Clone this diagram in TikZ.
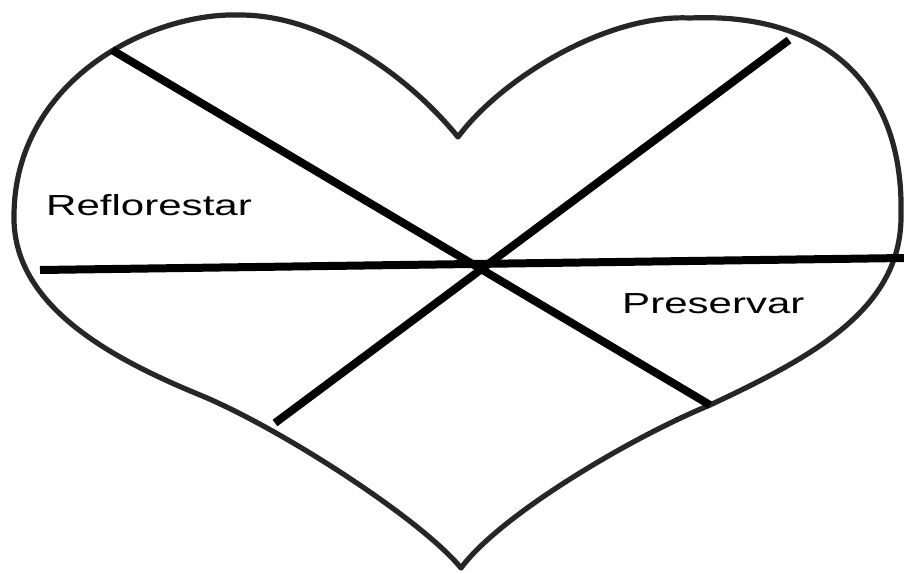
\documentclass[tikz,border=0pt]{standalone}
\usepackage{fontspec}
\setmainfont{Liberation Sans}
\begin{document}
\begin{tikzpicture}[x=1pt,y=1pt,
  heartline/.style={draw=black!85,line width=5.2pt,line join=round},
  cutline/.style={draw=black,line width=8pt},
  lbl/.style={inner sep=0pt,anchor=base west,font=\fontsize{29}{35}\selectfont}]
\useasboundingbox[fill=white] (0,0) rectangle (904,-573);
% heart outline
\coordinate (dip) at (458,-137);
\coordinate (tip) at (461,-568);
\draw[heartline] (dip)
  .. controls (405,-72) and (320,-15) .. (240,-15)
  .. controls (150,-12) and (15,-80) .. (14,-215)
  .. controls (12,-305) and (110,-358) .. (200,-395)
  .. controls (280,-428) and (421,-519) .. (tip)
  .. controls (500,-515) and (630,-438) .. (710,-405)
  .. controls (810,-358) and (902,-310) .. (901,-215)
  .. controls (904,-90) and (830,-12) .. (690,-18)
  .. controls (605,-14) and (500,-80) .. (dip) -- cycle;
% line end points
\coordinate (a1) at (112,-50);
\coordinate (a2) at (710,-405);
\coordinate (b1) at (789,-40);
\coordinate (b2) at (275,-423);
\coordinate (c1) at (40,-270);
\coordinate (c2) at (904,-258);
\draw[cutline] (a1) -- (a2);
\draw[cutline] (b1) -- (b2);
\draw[cutline] (c1) -- (c2);
% labels
\node[lbl] (refl) at (46,-215) {\scalebox{1.45}[1]{Reflorestar}};
\node[lbl] (pres) at (622,-313) {\scalebox{1.45}[1]{Preservar}};
\end{tikzpicture}
\end{document}
